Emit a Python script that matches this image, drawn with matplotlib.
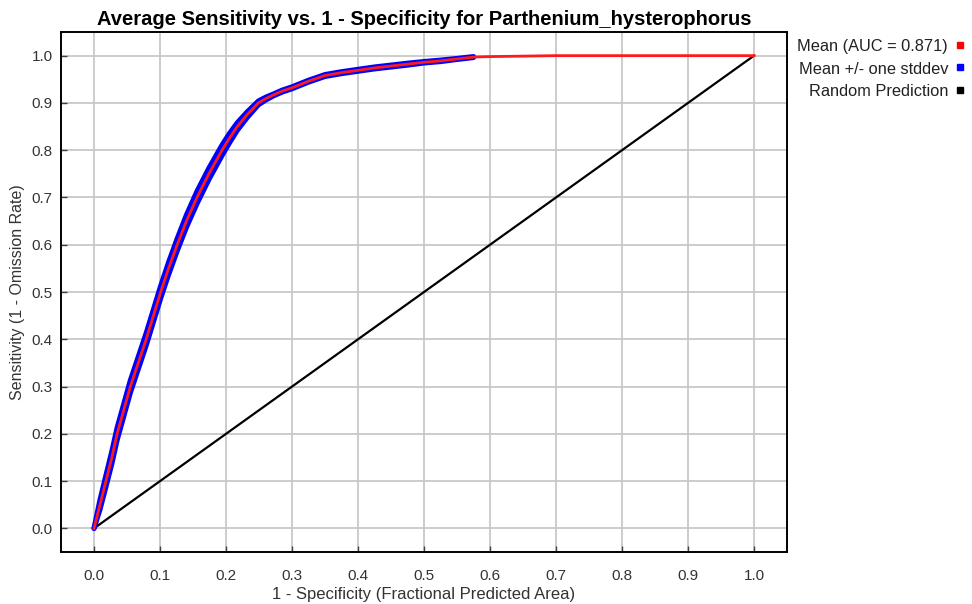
import matplotlib
matplotlib.use("Agg")
import matplotlib.pyplot as plt
import numpy as np
from matplotlib.patches import Rectangle

plt.rcParams['font.family'] = ['Liberation Sans', 'DejaVu Sans']

# Mean ROC curve (fractional predicted area vs. sensitivity)
fpa = [0.0, 0.009, 0.018, 0.027, 0.035, 0.045, 0.055, 0.067, 0.079, 0.090,
       0.101, 0.113, 0.126, 0.140, 0.156, 0.174, 0.194, 0.205, 0.217, 0.232,
       0.249, 0.260, 0.272, 0.285, 0.300, 0.325, 0.350, 0.375, 0.400, 0.425,
       0.450, 0.475, 0.500, 0.525, 0.550, 0.575, 0.600, 0.650, 0.700, 0.800,
       0.900, 1.000]
sens_mean = [0.0, 0.05, 0.10, 0.15, 0.20, 0.25, 0.30, 0.35, 0.40, 0.45,
             0.50, 0.55, 0.60, 0.65, 0.70, 0.75, 0.80, 0.825, 0.85, 0.875,
             0.90, 0.909, 0.917, 0.925, 0.932, 0.946, 0.958, 0.964, 0.969, 0.974,
             0.978, 0.982, 0.986, 0.989, 0.993, 0.997, 0.998, 0.999, 1.0, 1.0,
             1.0, 1.0]
sens_std = [0.0, 0.010, 0.012, 0.013, 0.013, 0.013, 0.013, 0.013, 0.013, 0.013,
            0.013, 0.013, 0.013, 0.013, 0.013, 0.012, 0.011, 0.010, 0.008, 0.006,
            0.004, 0.003, 0.002, 0.002, 0.002, 0.002, 0.002, 0.002, 0.002, 0.002,
            0.002, 0.002, 0.0015, 0.0015, 0.001, 0.001, 0.0, 0.0, 0.0, 0.0,
            0.0, 0.0]
random_x = [0.0, 1.0]
random_y = [0.0, 1.0]
auc = 0.871

title = "Average Sensitivity vs. 1 - Specificity for Parthenium_hysterophorus"
x_label = "1 - Specificity (Fractional Predicted Area)"
y_label = "Sensitivity (1 - Omission Rate)"
ticks = [round(0.1 * i, 1) for i in range(11)]
legend_labels = [f"Mean (AUC = {auc:.3f})", "Mean +/- one stddev", "Random Prediction"]
legend_colors = ["#ff0000", "#0000ff", "#000000"]

fpa_a = np.array(fpa)
mean_a = np.array(sens_mean)
std_a = np.array(sens_std)
band = std_a > 0
band[0] = True
last = np.where(band)[0].max() + 1

fig = plt.figure(figsize=(9.72, 6.04), dpi=100)
ax = fig.add_axes([0.0628, 0.0861, 0.7469, 0.8609])

ax.set_xlim(-0.05, 1.05)
ax.set_ylim(-0.05, 1.05)
ax.set_xticks(ticks)
ax.set_yticks(ticks)
ax.set_xticklabels([f"{t:.1f}" for t in ticks])
ax.set_yticklabels([f"{t:.1f}" for t in ticks])
ax.grid(True, color="#c8c8c8", linewidth=1.3)
ax.set_axisbelow(True)

# Standard deviation band
ax.plot(fpa_a[:last], (mean_a + std_a)[:last], color="#0000ff", linewidth=3.7,
        solid_capstyle="round", solid_joinstyle="round", zorder=3)
ax.plot(fpa_a[:last], (mean_a - std_a)[:last], color="#0000ff", linewidth=3.7,
        solid_capstyle="round", solid_joinstyle="round", zorder=3)
# Mean curve
ax.plot(fpa, sens_mean, color="#ff1a1a", linewidth=2.0, zorder=4,
        solid_joinstyle="round")
# Random prediction
ax.plot(random_x, random_y, color="#000000", linewidth=1.6, zorder=2)

ax.tick_params(axis="both", direction="in", length=4, width=1, color="#404040",
               labelsize=11, labelcolor="#333333")
ax.tick_params(axis="x", pad=12)
ax.tick_params(axis="y", pad=6)
for s in ax.spines.values():
    s.set_linewidth(1.4)
    s.set_color("#000000")

ax.set_title(title, fontsize=14.5, fontweight="bold", pad=5)
ax.set_xlabel(x_label, fontsize=12, color="#333333", labelpad=3)
ax.set_ylabel(y_label, fontsize=11.5, color="#333333", labelpad=5)

# Legend at the right side of the figure
W, H = 972, 604
rows_y = [47, 69, 92]
for lbl, col, yy in zip(legend_labels, legend_colors, rows_y):
    fig.text(948 / W, 1 - yy / H, lbl, ha="right", va="center",
             fontsize=11.8, color="#222222")
    fig.patches.append(Rectangle((957 / W, 1 - (yy + 1) / H), 6 / W, 6 / H,
                                 transform=fig.transFigure, color=col))

fig.savefig("out.png", dpi=100)
